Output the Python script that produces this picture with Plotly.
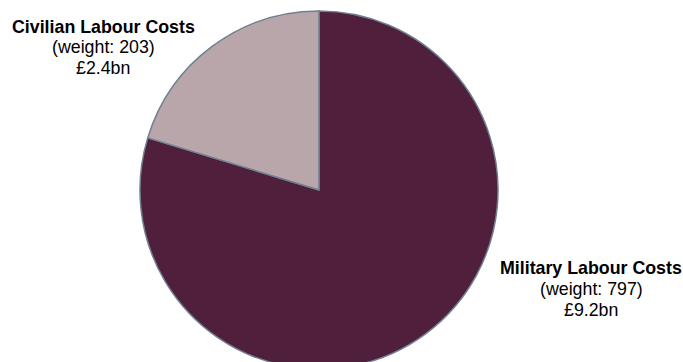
import plotly.graph_objects as go

# Data
categories = ["Military Labour Costs", "Civilian Labour Costs"]
weights = [797, 203]
costs = ["£9.2bn", "£2.4bn"]

colors = ["#4F1F3B", "#B9A6AB"]

W, H = 683, 380

fig = go.Figure()
fig.add_trace(go.Pie(
    labels=categories,
    values=weights,
    sort=False,
    direction="clockwise",
    rotation=0,
    textinfo="none",
    hoverinfo="label+value",
    marker=dict(colors=colors, line=dict(color="#6F7F8F", width=1.5)),
    domain=dict(x=[140 / W, 498 / W], y=[11 / H, 369 / H]),
    showlegend=False,
))

font = "Liberation Sans, Arial, sans-serif"
label_pos = [(591, [268, 289, 310]), (103, [27, 47, 68])]
for (cx, ys), cat, w, c in zip(label_pos, categories, weights, costs):
    lines = [f"<b>{cat}</b>", f"(weight: {w})", c]
    for y, t in zip(ys, lines):
        fig.add_annotation(
            x=cx / W, y=1 - y / H, xref="paper", yref="paper",
            text=t, showarrow=False, xanchor="center", yanchor="middle",
            font=dict(family=font, size=17.8, color="#000000"),
        )

fig.update_layout(
    width=W, height=H,
    margin=dict(l=0, r=0, t=0, b=0),
    paper_bgcolor="white",
    plot_bgcolor="white",
)

fig.write_html(
    "out.html",
    post_script="document.documentElement.style.overflow='hidden';document.body.style.overflow='hidden';",
)
